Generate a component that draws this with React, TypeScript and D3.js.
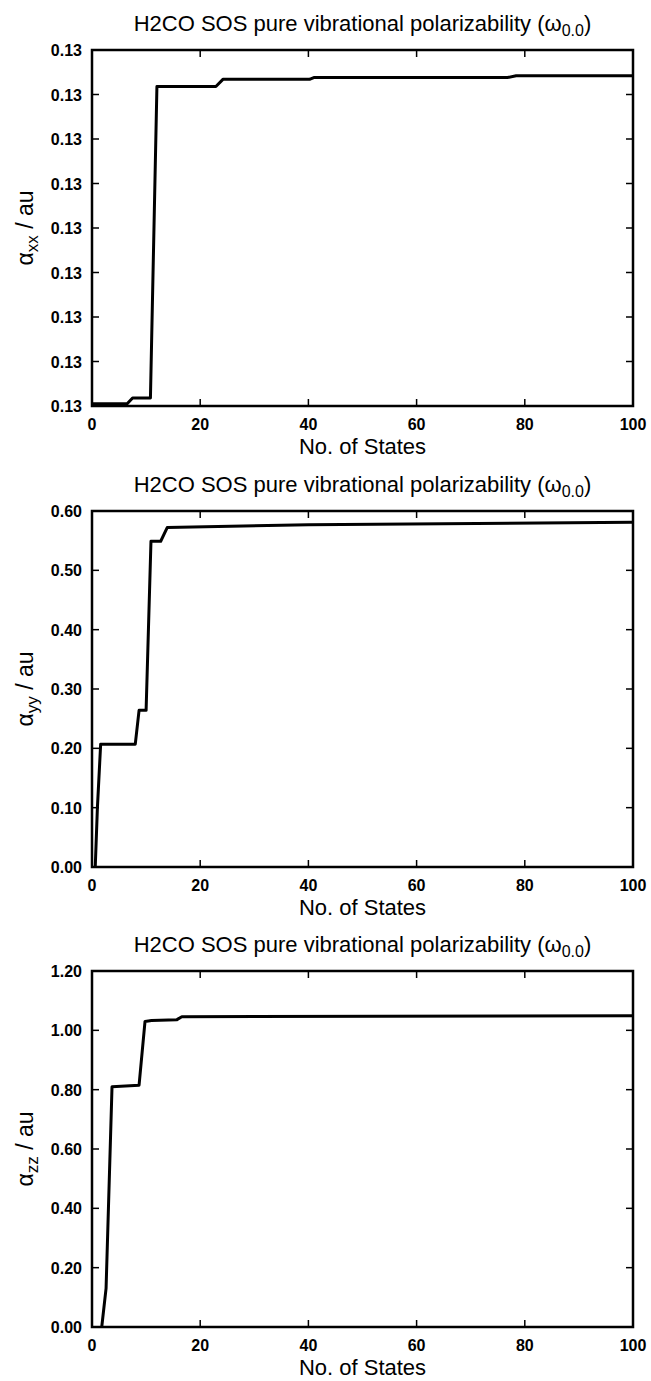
import React from "react";
import * as d3 from "d3";

// x = number of states, y = polarizability component (au)
const statesXX = [0, 6.5, 7.5, 10.8, 12.0, 22.9, 24.2, 40.2, 41.0, 76.8, 78.4, 100];
const alphaXX = [0.130005, 0.130005, 0.130018, 0.130018, 0.130718, 0.130718, 0.130734, 0.130734, 0.130738, 0.130738, 0.130742, 0.130742];

const statesYY = [0.6, 1.0, 1.6, 8.0, 8.7, 10.0, 10.9, 12.7, 13.9, 40, 100];
const alphaYY = [0, 0.1, 0.207, 0.207, 0.264, 0.264, 0.549, 0.549, 0.572, 0.577, 0.581];

const statesZZ = [1.8, 2.6, 3.7, 8.7, 9.8, 11.0, 15.7, 16.6, 100];
const alphaZZ = [0, 0.13, 0.81, 0.815, 1.03, 1.033, 1.036, 1.046, 1.049];

const xTicks = [0, 20, 40, 60, 80, 100];
const yTicksXX = [0.13, 0.1301, 0.1302, 0.1303, 0.1304, 0.1305, 0.1306, 0.1307, 0.1308];
const yTicksYY = [0, 0.1, 0.2, 0.3, 0.4, 0.5, 0.6];
const yTicksZZ = [0, 0.2, 0.4, 0.6, 0.8, 1.0, 1.2];

const W = 651;
const H = 1381;
const left = 92;
const right = 633;
const plotH = 356;
const font = "'Liberation Sans', Arial, Helvetica, sans-serif";

type PanelProps = {
  top: number;
  xs: number[];
  ys: number[];
  yTicks: number[];
  sub: string;
};

function Panel({ top, xs, ys, yTicks, sub }: PanelProps) {
  const x = d3.scaleLinear().domain([0, 100]).range([left, right]);
  const y = d3
    .scaleLinear()
    .domain([yTicks[0], yTicks[yTicks.length - 1]])
    .range([top + plotH, top]);
  const bottom = top + plotH;
  const line = d3
    .line<number>()
    .x((_, i) => x(xs[i]))
    .y((d) => y(d));
  const fmt = d3.format(".2f");
  const tl = 7;
  const cx = (left + right) / 2;
  const cy = top + plotH / 2;

  return (
    <g>
      <text x={cx} y={top - 19} textAnchor="middle" fontSize={22} fontFamily={font}>
        H2CO SOS pure vibrational polarizability (ω
        <tspan fontSize={16} dy={5}>0.0</tspan>
        <tspan dy={-5}>)</tspan>
      </text>
      <path d={line(ys) || ""} fill="none" stroke="#000" strokeWidth={3} strokeLinejoin="round" />
      <rect x={left} y={top} width={right - left} height={plotH} fill="none" stroke="#000" strokeWidth={2.5} />
      {xTicks.map((t) => (
        <g key={"x" + t}>
          <line x1={x(t)} x2={x(t)} y1={bottom} y2={bottom - tl} stroke="#000" strokeWidth={1.5} />
          <line x1={x(t)} x2={x(t)} y1={top} y2={top + tl} stroke="#000" strokeWidth={1.5} />
          <text x={x(t)} y={bottom + 24} textAnchor="middle" fontSize={16} fontWeight="bold" fontFamily={font}>
            {t}
          </text>
        </g>
      ))}
      {yTicks.map((t, i) => (
        <g key={"y" + i}>
          <line x1={left} x2={left + tl} y1={y(t)} y2={y(t)} stroke="#000" strokeWidth={1.5} />
          <line x1={right} x2={right - tl} y1={y(t)} y2={y(t)} stroke="#000" strokeWidth={1.5} />
          <text x={left - 10} y={y(t) + 6} textAnchor="end" fontSize={16} fontWeight="bold" fontFamily={font}>
            {fmt(t)}
          </text>
        </g>
      ))}
      <text x={cx} y={bottom + 48} textAnchor="middle" fontSize={22} fontFamily={font}>
        No. of States
      </text>
      <text
        transform={`translate(33,${cy}) rotate(-90)`}
        textAnchor="middle"
        fontSize={23}
        fontFamily={font}
      >
        α<tspan fontSize={17} dy={5}>{sub}</tspan>
        <tspan dy={-5}> / au</tspan>
      </text>
    </g>
  );
}

export default function App() {
  return (
    <svg
      width={W}
      height={H}
      style={{ position: "absolute", left: 0, top: 0, display: "block", background: "#fff" }}
    >
      <Panel top={50} xs={statesXX} ys={alphaXX} yTicks={yTicksXX} sub="xx" />
      <Panel top={511} xs={statesYY} ys={alphaYY} yTicks={yTicksYY} sub="yy" />
      <Panel top={971} xs={statesZZ} ys={alphaZZ} yTicks={yTicksZZ} sub="zz" />
    </svg>
  );
}
